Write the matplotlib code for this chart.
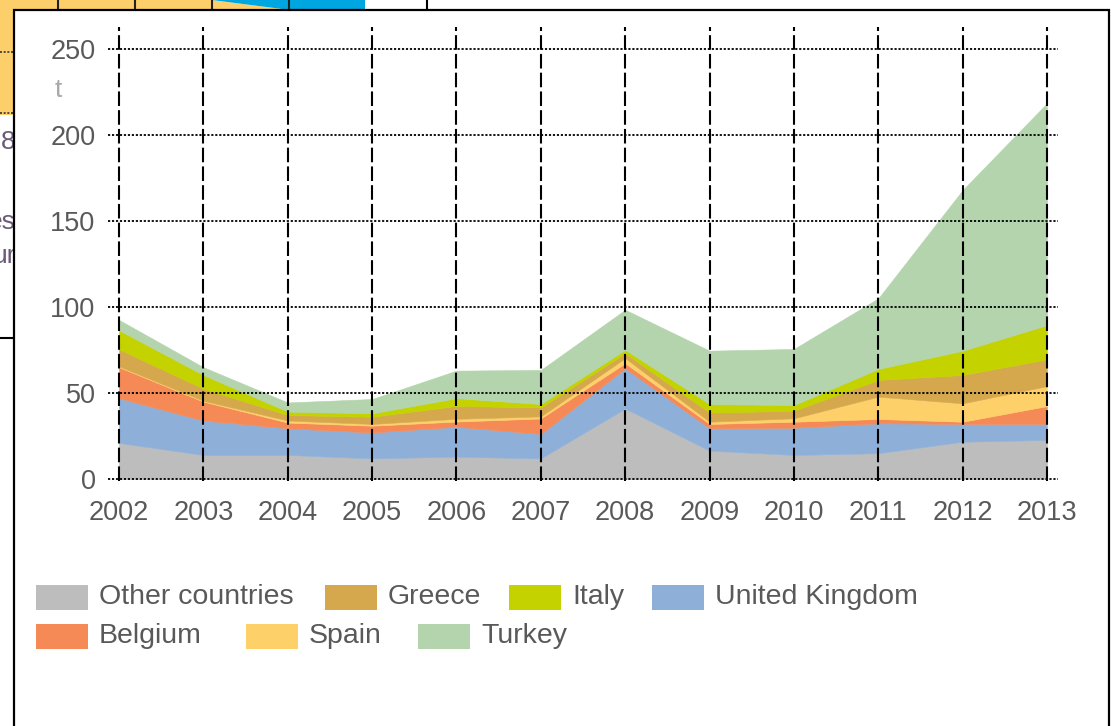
import matplotlib
matplotlib.use("Agg")
import matplotlib.pyplot as plt
from matplotlib.patches import Rectangle, Polygon
from matplotlib.lines import Line2D

plt.rcParams['font.family'] = ['Liberation Sans', 'DejaVu Sans']

years = list(range(2002, 2014))
# tonnes per country
other   = [21, 14, 14, 12, 13, 12, 41, 16.5, 14, 15, 21.7, 22.7]
uk      = [26, 20, 15.5, 15, 17.4, 14.2, 23.3, 13, 15.8, 17.4, 10.3, 9.3]
belgium = [18, 11, 3.3, 4, 3, 9, 3, 2.5, 3.5, 2.5, 1.3, 10.4]
spain   = [0.5, 0.5, 1.2, 1, 1.6, 1.2, 3, 1.3, 2, 13, 10.7, 11.6]
greece  = [10, 7, 3.2, 4.2, 7.5, 5.2, 2.8, 5.3, 4.4, 9.7, 16.5, 15.6]
italy   = [11, 8, 2, 2, 4.5, 2, 2, 5, 3.3, 6.4, 14.1, 19.9]
turkey  = [6, 4.5, 5.3, 8.3, 16, 19.8, 23.3, 31, 32.6, 41, 93.4, 129]

series = [other, uk, belgium, spain, greece, italy, turkey]
names = ["Other countries", "United Kingdom", "Belgium", "Spain", "Greece", "Italy", "Turkey"]
colors = ["#BDBDBD", "#8EB0D8", "#F58A57", "#FED06A", "#D6A84E", "#C4D200", "#B3D4AC"]
yticks = [0, 50, 100, 150, 200, 250]

W, H = 1111, 726
fig = plt.figure(figsize=(W / 100, H / 100), dpi=100)

def P(x, y):
    # pixel (y down) -> figure fraction
    return (x / W, 1 - y / H)

tf = fig.transFigure

# bits of the chart lying behind this one
fig.add_artist(Polygon([P(0, 0), P(212, 0), P(290, 10), P(0, 10)], closed=True,
                       facecolor="#FDCF6A", edgecolor="none", transform=tf, zorder=1))
fig.add_artist(Polygon([P(212, 0), P(365, 0), P(365, 10), P(290, 10)], closed=True,
                       facecolor="#00A6E0", edgecolor="none", transform=tf, zorder=1))
fig.add_artist(Rectangle(P(0, 115), 14 / W, 115 / H, facecolor="#FDCF6A",
                         edgecolor="none", transform=tf, zorder=1))
for tx in [58, 135, 212, 289]:
    fig.add_artist(Line2D([tx / W, tx / W], [1, 1 - 8 / H], color="#222222", lw=1.5,
                          transform=tf, zorder=2))
fig.add_artist(Line2D([427 / W, 427 / W], [1, 1 - 10 / H], color="black", lw=1.5,
                      transform=tf, zorder=2))
for gy in [52, 113]:
    fig.add_artist(Line2D([0, 14 / W], [1 - gy / H] * 2, color="#333333", lw=1.2,
                          ls=(0, (1.2, 1)), transform=tf, zorder=2))
fig.add_artist(Line2D([0, 14 / W], [1 - 338 / H] * 2, color="black", lw=1.5,
                      transform=tf, zorder=2))
for s, ty in [("8", 142), ("es", 222), ("ur", 256)]:
    fig.text(16 / W, 1 - ty / H, s, ha="right", va="center", fontsize=19,
             color="#6a5a78", zorder=2)

# main panel
fig.add_artist(Rectangle(P(14, 760), (1109 - 14) / W, 750 / H, facecolor="white",
                         edgecolor="black", lw=1.6, transform=tf, zorder=3))

px_per_yr = (1047 - 119) / 11
xmin = 2002 - 11 / px_per_yr
xmax = 2013 + 11 / px_per_yr
px_per_t = (479 - 49) / 250
ybot = -1
ytop = (479 - 27) / px_per_t
ax = fig.add_axes([108 / W, 1 - (479 - ybot * px_per_t) / H, 950 / W,
                   (ytop - ybot) * px_per_t / H])
ax.set_zorder(5)
ax.patch.set_alpha(0)

ax.stackplot(years, *series, colors=colors, linewidth=0.4, edgecolor="face")
ax.set_xlim(xmin, xmax)
ax.set_ylim(ybot, ytop)

for s in ax.spines.values():
    s.set_visible(False)
ax.set_xticks(years)
ax.set_yticks(yticks)
ax.tick_params(length=0, labelsize=19.5, labelcolor="#595959")
ax.tick_params(axis="x", pad=14)
ax.tick_params(axis="y", pad=9)
ax.set_axisbelow(False)
ax.xaxis.grid(True, color="black", lw=1.5, ls=(0, (7, 2)))
ax.yaxis.grid(True, color="black", lw=1.3, ls=(0, (1.2, 1)))

fig.text(58 / W, 1 - 90 / H, "t", ha="center", va="center", fontsize=19,
         color="#a8a8a8", zorder=6)

# legend laid out in two rows as in the original
legend_rows = [
    (597, [("Other countries", 36), ("Greece", 325), ("Italy", 509), ("United Kingdom", 652)]),
    (636, [("Belgium", 36), ("Spain", 246), ("Turkey", 418)]),
]
for cy, entries in legend_rows:
    for name, lx in entries:
        c = colors[names.index(name)]
        fig.add_artist(Rectangle(P(lx, cy + 12.5), 52 / W, 25 / H, facecolor=c,
                                 edgecolor="none", transform=tf, zorder=6))
        fig.text((lx + 63) / W, 1 - cy / H, name, ha="left", va="center",
                 fontsize=20.5, color="#595959", zorder=6)

fig.savefig("out.png", dpi=100)
